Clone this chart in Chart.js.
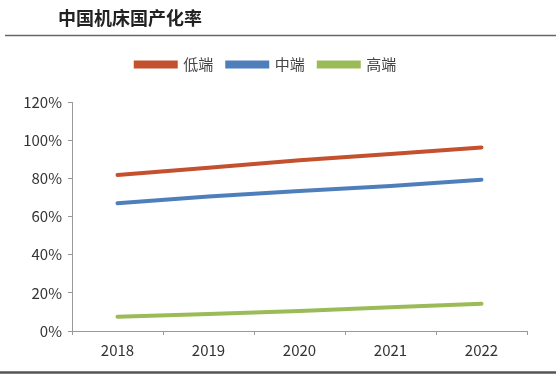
<!DOCTYPE html>
<html>
<head>
<meta charset="utf-8">
<script src="https://cdn.jsdelivr.net/npm/chart.js@4.4.1/dist/chart.umd.min.js"></script>
<style>
  html, body { margin: 0; padding: 0; background: #fff; }
  #wrap { width: 556px; height: 376px; position: relative; }
</style>
</head>
<body>
<div id="wrap"><canvas id="myChart"></canvas></div>
<script>
// data
var years = ['2018', '2019', '2020', '2021', '2022'];
var lowEnd = [81.8, 85.5, 89.5, 92.8, 96.2];
var midEnd = [67.0, 70.5, 73.3, 76.0, 79.3];
var highEnd = [7.5, 8.9, 10.5, 12.5, 14.3];
var seriesNames = ['低端', '中端', '高端'];
var yTicks = [0, 20, 40, 60, 80, 100, 120];

var titleText = '中国机床国产化率';
var fontFamily = '"Noto Sans CJK SC", "Noto Sans", sans-serif';

// title and the two rules across the page
var framePlugin = {
    id: 'frame',
    afterDraw: function(chart) {
        var c = chart.ctx;
        c.save();
        c.fillStyle = '#222';
        c.font = 'bold 18px ' + fontFamily;
        c.textBaseline = 'middle';
        c.fillText(titleText, 58, 18);
        c.strokeStyle = '#666';
        c.lineWidth = 1.5;
        c.beginPath();
        c.moveTo(5, 35.5);
        c.lineTo(556, 35.5);
        c.stroke();
        c.strokeStyle = '#555';
        c.lineWidth = 2.5;
        c.beginPath();
        c.moveTo(0, 372.5);
        c.lineTo(556, 372.5);
        c.stroke();
        c.restore();
    }
};

// more room under the legend
var legendGap = {
    id: 'legendGap',
    beforeInit: function(chart) {
        var fit = chart.legend.fit;
        chart.legend.fit = function() {
            fit.bind(chart.legend)();
            this.height += 20;
        };
    }
};

var colors = ['#c4502e', '#4f7fbb', '#9bbb59'];
var values = [lowEnd, midEnd, highEnd];
var datasets = [];
for (var i = 0; i < values.length; i++) {
    datasets.push({
        label: seriesNames[i],
        data: values[i],
        borderColor: colors[i],
        backgroundColor: colors[i],
        borderWidth: 4,
        borderCapStyle: 'round',
        pointRadius: 0,
        tension: 0
    });
}

var ctx = document.getElementById('myChart');

new Chart(ctx, {
    type: 'line',
    data: {
        labels: years,
        datasets: datasets
    },
    options: {
        responsive: true,
        maintainAspectRatio: false,
        animation: false,
        layout: {
            padding: { top: 43, left: 5, right: 29, bottom: 11 }
        },
        plugins: {
            legend: {
                position: 'top',
                labels: {
                    boxWidth: 40,
                    boxHeight: 4,
                    padding: 14,
                    color: '#444',
                    font: { size: 15, family: fontFamily }
                }
            },
            tooltip: { enabled: false }
        },
        scales: {
            x: {
                offset: true,
                grid: {
                    offset: true,
                    drawOnChartArea: false,
                    drawTicks: true,
                    tickLength: 4,
                    color: '#999'
                },
                border: { color: '#999', width: 1 },
                ticks: {
                    color: '#333',
                    padding: 6,
                    font: { size: 15, family: fontFamily }
                }
            },
            y: {
                min: 0,
                max: 120,
                afterFit: function(scale) { scale.width = 67; },
                afterBuildTicks: function(scale) {
                    scale.ticks = yTicks.map(function(v) { return { value: v }; });
                },
                grid: {
                    drawOnChartArea: false,
                    tickLength: 4,
                    color: '#999'
                },
                border: { color: '#999', width: 1 },
                ticks: {
                    color: '#333',
                    padding: 6,
                    font: { size: 15, family: fontFamily },
                    callback: function(v) { return v + '%'; }
                }
            }
        }
    },
    plugins: [framePlugin, legendGap]
});
</script>
</body>
</html>
